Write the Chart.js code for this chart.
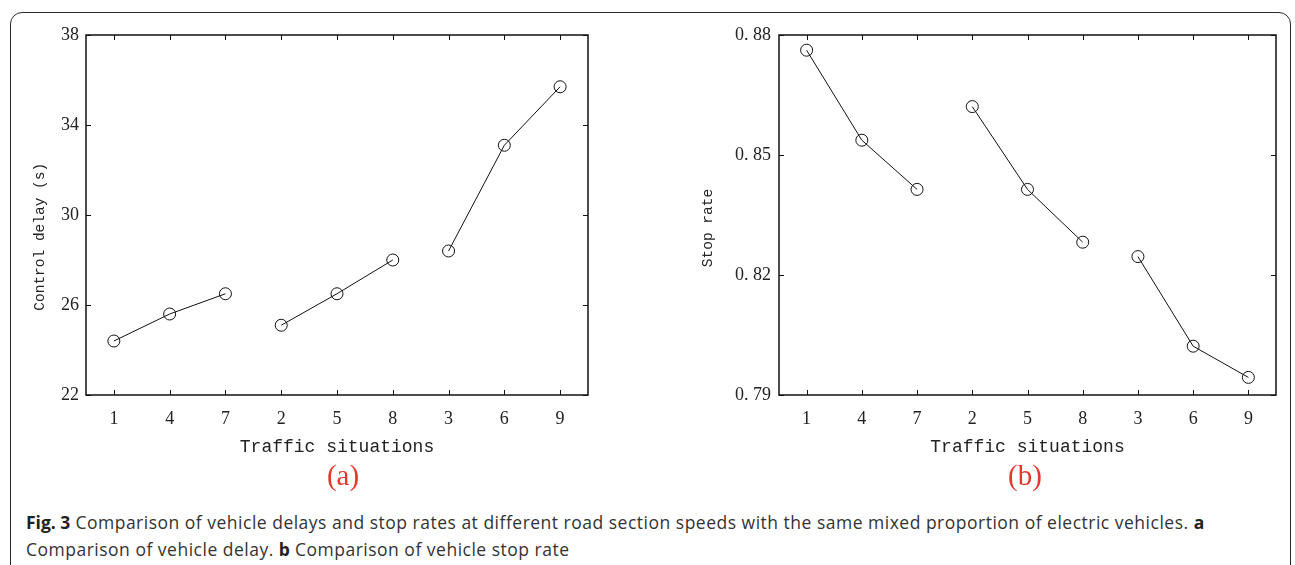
<!DOCTYPE html>
<html>
<head>
<meta charset="utf-8">
<script src="https://cdn.jsdelivr.net/npm/chart.js@4.4.0/dist/chart.umd.min.js"></script>
<style>
  body { margin: 0; background: #fff; width: 1295px; height: 565px; overflow: hidden; position: relative; }
  .frame { position: absolute; left: 10px; top: 12px; width: 1279px; height: 600px; border: 1.5px solid #2b2b2b; border-radius: 12px; }
  .wrap { position: absolute; top: 0; height: 470px; }
  #wrapA { left: 0; width: 640px; }
  #wrapB { left: 650px; width: 645px; }
  .panel { position: absolute; top: 459px; color: #e3392b; font-family: 'Liberation Serif', serif; font-size: 29px; transform: translateX(-50%); }
  .caption { position: absolute; left: 26px; font-family: 'Open Sans', sans-serif; font-size: 17.5px; letter-spacing: 0.5px; color: #333; white-space: nowrap; }
  .caption b { color: #222; letter-spacing: 0; }
</style>
</head>
<body>
<div class="frame"></div>
<div class="wrap" id="wrapA"><canvas id="chartA"></canvas></div>
<div class="wrap" id="wrapB"><canvas id="chartB"></canvas></div>
<div class="panel" style="left:343px">(a)</div>
<div class="panel" style="left:1025px">(b)</div>
<div class="caption" style="top:510px"><b>Fig. 3</b> Comparison of vehicle delays and stop rates at different road section speeds with the same mixed proportion of electric vehicles. <b>a</b></div>
<div class="caption" style="top:537px">Comparison of vehicle delay. <b>b</b> Comparison of vehicle stop rate</div>

<script>
// ── Data ──────────────────────────────────────────────────────────────────
const situations = ['1', '4', '7', '2', '5', '8', '3', '6', '9'];
const controlDelay = [24.4, 25.6, 26.5, 25.1, 26.5, 28.0, 28.4, 33.1, 35.7];
const stopRate     = [0.8762, 0.8537, 0.8414, 0.8621, 0.8414, 0.8282, 0.8246, 0.8022, 0.7944];
// the three separate line segments (indices into situations)
const groups = [[0, 1, 2], [3, 4, 5], [6, 7, 8]];
const delayTicks = [22, 26, 30, 34, 38];
const rateTicks  = [0.79, 0.82, 0.85, 0.88];

// ── Inward MATLAB-style ticks + box ───────────────────────────────────────
const boxTicks = {
  id: 'boxTicks',
  afterDatasetsDraw(chart) {
    const { ctx, chartArea: a, scales: { x, y } } = chart;
    const len = 5;
    ctx.save();
    ctx.strokeStyle = '#111';
    ctx.lineWidth = 1.5;
    ctx.strokeRect(a.left, a.top, a.right - a.left, a.bottom - a.top);
    ctx.lineWidth = 1;
    ctx.beginPath();
    x.ticks.forEach((t, i) => {
      const px = Math.round(x.getPixelForTick(i)) + 0.5;
      ctx.moveTo(px, a.bottom); ctx.lineTo(px, a.bottom - len);
      ctx.moveTo(px, a.top);    ctx.lineTo(px, a.top + len);
    });
    y.ticks.forEach(t => {
      const py = Math.round(y.getPixelForValue(t.value)) + 0.5;
      ctx.moveTo(a.left, py);  ctx.lineTo(a.left + len, py);
      ctx.moveTo(a.right, py); ctx.lineTo(a.right - len, py);
    });
    ctx.stroke();
    ctx.restore();
  }
};

function mkDatasets(values) {
  return groups.map(g => ({
    data: values.map((v, i) => (g.includes(i) ? v : null)),
    borderColor: '#111',
    borderWidth: 1,
    pointRadius: 6,
    pointHoverRadius: 6,
    pointBorderWidth: 1,
    pointBorderColor: '#111',
    pointBackgroundColor: 'rgba(0,0,0,0)',
    spanGaps: false,
    tension: 0,
  }));
}

function mkChart(id, values, yOpts) {
  const tickFont = { family: "'Liberation Serif', serif", size: 18 };
  const titleFont = { family: "'Liberation Mono', monospace", size: 14.5 };
  return new Chart(document.getElementById(id), {
    type: 'line',
    data: { labels: situations, datasets: mkDatasets(values) },
    plugins: [boxTicks],
    options: {
      responsive: true,
      maintainAspectRatio: false,
      animation: false,
      layout: { padding: { left: 0, right: yOpts.padRight, top: 35, bottom: 10 } },
      plugins: { legend: { display: false }, tooltip: { enabled: false } },
      scales: {
        x: {
          offset: true,
          grid: { display: false, drawTicks: false },
          border: { display: false },
          ticks: { color: '#222', font: tickFont, padding: 13, maxRotation: 0 },
          title: { display: true, text: 'Traffic situations', color: '#222',
                   font: { family: "'Liberation Mono', monospace", size: 18 }, padding: { bottom: 2 } },
          afterFit: s => { s.height = 65; },
        },
        y: {
          min: yOpts.min,
          max: yOpts.max,
          afterBuildTicks: s => { s.ticks = yOpts.ticks.map(v => ({ value: v })); },
          grid: { display: false, drawTicks: false },
          border: { display: false },
          ticks: { color: '#222', font: tickFont, padding: yOpts.tickPad, callback: yOpts.fmt },
          title: { display: true, text: yOpts.title, color: '#222', font: titleFont,
                   padding: { top: yOpts.titlePad, bottom: 0 } },
          afterFit: s => { s.width = yOpts.axisWidth; },
        },
      },
    },
  });
}

mkChart('chartA', controlDelay, {
  min: 22, max: 38, ticks: delayTicks,
  fmt: v => String(v),
  title: 'Control delay (s)     ',
  axisWidth: 86, padRight: 52, tickPad: 7, titlePad: 31,
});

mkChart('chartB', stopRate, {
  min: 0.79, max: 0.88, ticks: rateTicks,
  fmt: v => v.toFixed(2).replace('.', '. '),
  title: 'Stop rate   ',
  axisWidth: 129, padRight: 19, tickPad: 8, titlePad: 49,
});
</script>
</body>
</html>
